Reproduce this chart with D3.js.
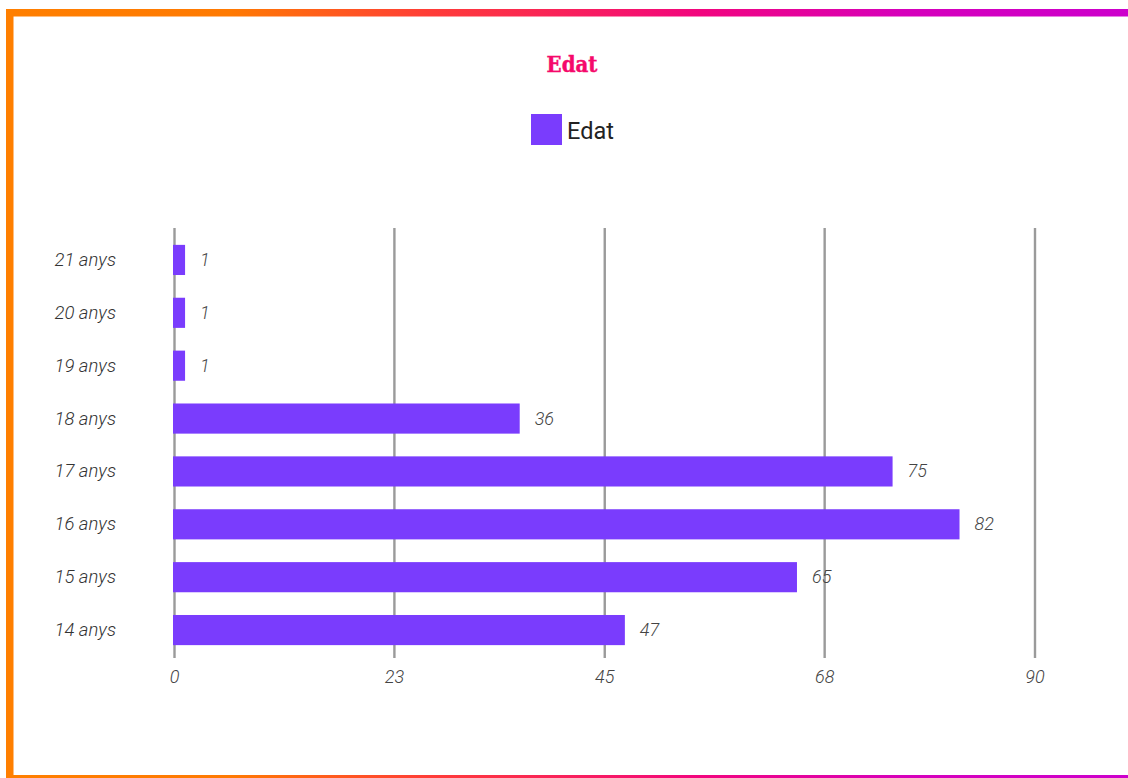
<!DOCTYPE html>
<html>
<head>
<meta charset="utf-8">
<script src="https://cdn.jsdelivr.net/npm/d3@7"></script>
<style>
  html, body { margin: 0; padding: 0; background: #fff; }
  svg { display: block; }
</style>
</head>
<body>
<svg id="chart" width="1128" height="778"></svg>
<script>
const categories = ["21 anys", "20 anys", "19 anys", "18 anys", "17 anys", "16 anys", "15 anys", "14 anys"];
const values = [1, 1, 1, 36, 75, 82, 65, 47];
const tickValues = [0, 23, 45, 68, 90];
const tickLabels = ["0", "23", "45", "68", "90"];
const seriesName = "Edat";
const title = "Edat";

const svg = d3.select("#chart");
const W = 1128, H = 778;

// frame gradients
const defs = svg.append("defs");
const g1 = defs.append("linearGradient").attr("id", "frameGrad").attr("x1", "0%").attr("x2", "100%").attr("y1", "0%").attr("y2", "0%");
[["0%", "#ff7f00"], ["20%", "#ff7a02"], ["38%", "#ff3c38"], ["62%", "#f2057f"], ["80%", "#d600bb"], ["100%", "#cc00cc"]]
  .forEach(([o, c]) => g1.append("stop").attr("offset", o).attr("stop-color", c));

svg.append("rect").attr("x", 6).attr("y", 9).attr("width", W - 6).attr("height", 7.5).attr("fill", "url(#frameGrad)");
svg.append("rect").attr("x", 6).attr("y", 9).attr("width", 7.5).attr("height", H - 9).attr("fill", "#ff7f00");
svg.append("rect").attr("x", 6).attr("y", 775).attr("width", W - 6).attr("height", 3).attr("fill", "url(#frameGrad)");

// title
svg.append("text")
  .attr("x", 572).attr("y", 72)
  .attr("text-anchor", "middle")
  .attr("font-family", "'DejaVu Serif Condensed', 'DejaVu Serif', serif")
  .attr("font-weight", "bold")
  .attr("font-size", 22)
  .attr("fill", "#f5096b")
  .attr("stroke", "#f5096b")
  .attr("stroke-width", 0.4)
  .text(title);

// legend
svg.append("rect").attr("x", 531).attr("y", 114).attr("width", 31).attr("height", 31).attr("fill", "#7a3cfd");
svg.append("text")
  .attr("x", 567).attr("y", 138.5)
  .attr("font-family", "Roboto, sans-serif")
  .attr("font-size", 23.5)
  .attr("fill", "#222")
  .text(seriesName);

// scales
const x = d3.scaleLinear().domain([0, 90]).range([174.5, 1035]);
const y = d3.scaleBand().domain(categories).range([233.5, 656.5]).paddingInner(0.43).paddingOuter(0.215);

// grid
svg.append("g").selectAll("line").data(tickValues).join("line")
  .attr("x1", d => x(d)).attr("x2", d => x(d))
  .attr("y1", 228).attr("y2", 658)
  .attr("stroke", "#9a9a9a").attr("stroke-width", 2.4);

// x axis labels
svg.append("g").selectAll("text").data(tickValues).join("text")
  .attr("x", d => x(d)).attr("y", 683)
  .attr("text-anchor", "middle")
  .attr("font-family", "Roboto, sans-serif")
  .attr("font-style", "italic")
  .attr("font-weight", 300)
  .attr("font-size", 18)
  .attr("fill", "#444")
  .text((d, i) => tickLabels[i]);

// bars
svg.append("g").selectAll("rect").data(values).join("rect")
  .attr("x", x(0) - 1.5)
  .attr("y", (d, i) => y(categories[i]))
  .attr("width", d => x(d) - x(0) + 2.5)
  .attr("height", y.bandwidth())
  .attr("fill", "#7a3cfd");

// category labels
svg.append("g").selectAll("text").data(categories).join("text")
  .attr("x", 116)
  .attr("y", d => y(d) + y.bandwidth() / 2 + 6)
  .attr("text-anchor", "end")
  .attr("font-family", "Roboto, sans-serif")
  .attr("font-style", "italic")
  .attr("font-weight", 300)
  .attr("font-size", 18.5)
  .attr("fill", "#333")
  .text(d => d);

// value labels
svg.append("g").selectAll("text").data(values).join("text")
  .attr("x", d => x(d) + 16)
  .attr("y", (d, i) => y(categories[i]) + y.bandwidth() / 2 + 6)
  .attr("font-family", "Roboto, sans-serif")
  .attr("font-style", "italic")
  .attr("font-weight", 300)
  .attr("font-size", 18)
  .attr("fill", "#444")
  .text(d => d);
</script>
</body>
</html>
